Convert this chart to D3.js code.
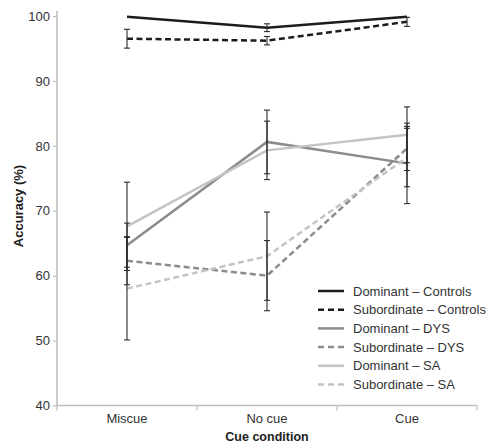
<!DOCTYPE html>
<html>
<head>
<meta charset="utf-8">
<script src="https://cdn.jsdelivr.net/npm/d3@7"></script>
<style>
  html, body { margin: 0; padding: 0; background: #fff; }
  svg { display: block; font-family: "Liberation Sans", Arial, sans-serif; }
</style>
</head>
<body>
<svg id="chart" width="489" height="444"></svg>
<script>
// ---- data ----
const categories = ["Miscue", "No cue", "Cue"];
const yTicks = [40, 50, 60, 70, 80, 90, 100];

const seriesNames = [
  "Dominant – Controls", "Subordinate – Controls",
  "Dominant – DYS", "Subordinate – DYS",
  "Dominant – SA", "Subordinate – SA"
];
const domControls = [99.9, 98.2, 99.9];
const domControlsErr = [0, 0.6, 0];
const subControls = [96.5, 96.2, 99.1];
const subControlsErr = [1.45, 0.65, 0.7];
const domDYS = [64.7, 80.6, 77.3];
const domDYSErr = [3.4, 4.9, 6.2];
const subDYS = [62.3, 60.0, 79.6];
const subDYSErr = [3.7, 5.4, 3.4];
const domSA = [67.6, 79.3, 81.7];
const domSAErr = [6.8, 4.5, 4.3];
const subSA = [58.0, 63.0, 78.2];
const subSAErr = [7.9, 6.8, 4.5];

const seriesValues = [domControls, subControls, domDYS, subDYS, domSA, subSA];
const seriesErrors = [domControlsErr, subControlsErr, domDYSErr, subDYSErr, domSAErr, subSAErr];
const seriesColors = ["#1c1c1c", "#1c1c1c", "#8c8c8c", "#8c8c8c", "#c4c4c4", "#c4c4c4"];
const seriesDashed = [false, true, false, true, false, true];

// ---- layout ----
const svg = d3.select("#chart");
const mLeft = 57, mRight = 477, mTop = 16, mBottom = 405.5;

const x = d3.scalePoint().domain(categories).range([mLeft, mRight]).padding(0.5);
const y = d3.scaleLinear().domain([40, 100]).range([mBottom, mTop]);
const step = x.step();

const axisColor = "#bfbfbf";
const textColor = "#333333";

// y axis
const yAxis = svg.append("g").attr("transform", `translate(${mLeft},0)`)
  .call(d3.axisLeft(y).tickValues(yTicks).tickSize(4).tickPadding(3).tickFormat(d3.format("d")));
yAxis.select(".domain").remove();
yAxis.selectAll(".tick line").attr("stroke", axisColor).attr("stroke-width", 1.2);
yAxis.selectAll(".tick text").attr("fill", textColor).style("font-size", "13px")
  .style("font-family", "Liberation Sans, Arial, sans-serif");
svg.append("line").attr("x1", mLeft).attr("x2", mLeft).attr("y1", y(100) - 5).attr("y2", mBottom)
  .attr("stroke", axisColor).attr("stroke-width", 1.6);

// x axis
svg.append("line").attr("x1", mLeft).attr("x2", mRight).attr("y1", mBottom).attr("y2", mBottom)
  .attr("stroke", axisColor).attr("stroke-width", 1.6);
const boundaries = categories.map(c => x(c) - step / 2).concat([x(categories[categories.length - 1]) + step / 2]);
svg.selectAll(".xtick").data(boundaries).enter().append("line")
  .attr("x1", d => d).attr("x2", d => d).attr("y1", mBottom).attr("y2", mBottom + 5)
  .attr("stroke", axisColor).attr("stroke-width", 1.2);
svg.selectAll(".xlab").data(categories).enter().append("text")
  .attr("x", d => x(d)).attr("y", 418).attr("dy", "0.35em").attr("text-anchor", "middle")
  .attr("fill", textColor).style("font-size", "13px").text(d => d);

// axis titles
svg.append("text").attr("x", (mLeft + mRight) / 2).attr("y", 437).attr("dy", "0.35em")
  .attr("text-anchor", "middle").attr("fill", "#222").style("font-size", "12.5px")
  .style("font-weight", "bold").text("Cue condition");
svg.append("text").attr("transform", "translate(18,206) rotate(-90)").attr("dy", "0.35em")
  .attr("text-anchor", "middle").attr("fill", "#222").style("font-size", "13px")
  .style("font-weight", "bold").text("Accuracy (%)");

// lines
const line = d3.line().x((d, i) => x(categories[i])).y(d => y(d));
seriesValues.forEach((vals, s) => {
  svg.append("path").datum(vals).attr("d", line).attr("fill", "none")
    .attr("stroke", seriesColors[s]).attr("stroke-width", 2.5)
    .attr("stroke-dasharray", seriesDashed[s] ? "6,3.5" : null);
});

// error bars
const eb = svg.append("g").attr("stroke", "#2b2b2b").attr("stroke-width", 1.1);
seriesValues.forEach((vals, s) => {
  vals.forEach((v, i) => {
    const e = seriesErrors[s][i];
    if (!e) return;
    const cx = x(categories[i]);
    eb.append("line").attr("x1", cx).attr("x2", cx).attr("y1", y(v + e)).attr("y2", y(v - e));
    eb.append("line").attr("x1", cx - 3).attr("x2", cx + 3).attr("y1", y(v + e)).attr("y2", y(v + e));
    eb.append("line").attr("x1", cx - 3).attr("x2", cx + 3).attr("y1", y(v - e)).attr("y2", y(v - e));
  });
});

// legend
const lg = svg.append("g");
seriesNames.forEach((name, s) => {
  const ly = 291 + s * 18.7;
  lg.append("line").attr("x1", 318).attr("x2", 344).attr("y1", ly).attr("y2", ly)
    .attr("stroke", seriesColors[s]).attr("stroke-width", 2.5)
    .attr("stroke-dasharray", seriesDashed[s] ? "6,4" : null);
  lg.append("text").attr("x", 353).attr("y", ly).attr("dy", "0.35em")
    .attr("fill", textColor).style("font-size", "13px").text(name);
});
</script>
</body>
</html>
